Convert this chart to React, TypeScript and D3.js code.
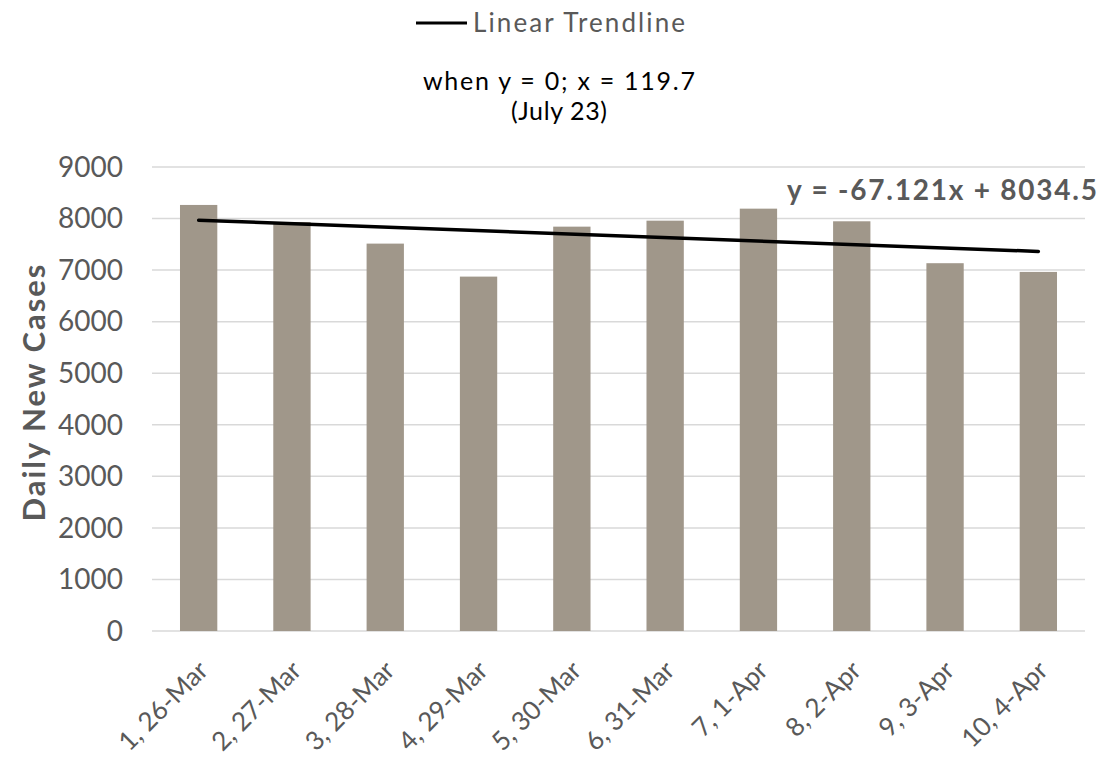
import React from 'react';
import * as d3 from 'd3';

const categories = ['1, 26-Mar', '2, 27-Mar', '3, 28-Mar', '4, 29-Mar', '5, 30-Mar', '6, 31-Mar', '7, 1-Apr', '8, 2-Apr', '9, 3-Apr', '10, 4-Apr'];
const dailyCases = [8264, 7933, 7514, 6874, 7843, 7959, 8192, 7947, 7134, 6965];
const yTicks = [0, 1000, 2000, 3000, 4000, 5000, 6000, 7000, 8000, 9000];
const trendSlope = -67.121;
const trendIntercept = 8034.5;

const W = 1114;
const H = 765;
const FONT = 'Lato, "Open Sans", sans-serif';

export default function App() {
  const margin = { top: 167, right: 29, bottom: 134, left: 152 };
  const innerW = W - margin.left - margin.right;
  const innerH = H - margin.top - margin.bottom;

  const x = d3.scaleBand<string>().domain(categories).range([0, innerW]).paddingInner(0.6).paddingOuter(0.3);
  const y = d3.scaleLinear().domain([0, 9000]).range([innerH, 0]);

  // trendline runs from the first to the last category centre
  const trendPts: [number, number][] = categories.map((c, i) => [
    (x(c) as number) + x.bandwidth() / 2,
    y(trendSlope * (i + 1) + trendIntercept),
  ]);
  const trendEnds = [trendPts[0], trendPts[trendPts.length - 1]];
  const line = d3.line();

  return (
    <svg width={W} height={H} style={{ position: 'absolute', left: 0, top: 0, background: '#fff' }} fontFamily={FONT}>
      {/* legend */}
      <line x1={416} x2={467} y1={23} y2={23} stroke="#000" strokeWidth={3} />
      <text x={473} y={32} fontSize={26} fill="#595959" textLength={212} lengthAdjust="spacing">Linear Trendline</text>

      {/* annotation title */}
      <text x={559} y={90} fontSize={25} fill="#000" textAnchor="middle" textLength={272} lengthAdjust="spacing">when y = 0; x = 119.7</text>
      <text x={559} y={120} fontSize={25} fill="#000" textAnchor="middle" textLength={96} lengthAdjust="spacing">(July 23)</text>

      <g transform={`translate(${margin.left},${margin.top})`}>
        {yTicks.map(t => (
          <g key={t}>
            <line x1={0} x2={innerW} y1={y(t)} y2={y(t)} stroke="#D9D9D9" strokeWidth={1.5} />
            <text x={-29} y={y(t)} dy="0.35em" textAnchor="end" fontSize={28} fill="#595959">{t}</text>
          </g>
        ))}
        {categories.map((c, i) => (
          <rect key={c} x={x(c)} y={y(dailyCases[i])} width={x.bandwidth()} height={innerH - y(dailyCases[i])} fill="#A0978A" />
        ))}
        <path d={line(trendEnds) || ''} stroke="#000" strokeWidth={3.5} fill="none" strokeLinecap="round" />
        <text x={787 - margin.left} y={200 - margin.top} fontSize={28} fontWeight="bold" fill="#595959" textLength={310} lengthAdjust="spacing">
          y = -67.121x + 8034.5
        </text>
        {categories.map(c => {
          const cx = (x(c) as number) + x.bandwidth() / 2;
          return (
            <text key={c} transform={`translate(${cx + 11},${innerH + 41}) rotate(-45)`} textAnchor="end" fontSize={26} fill="#595959">
              {c}
            </text>
          );
        })}
      </g>

      <text transform={`translate(45,393) rotate(-90)`} textAnchor="middle" fontSize={31} fontWeight="bold" fill="#595959" textLength={257} lengthAdjust="spacing">
        Daily New Cases
      </text>
    </svg>
  );
}
